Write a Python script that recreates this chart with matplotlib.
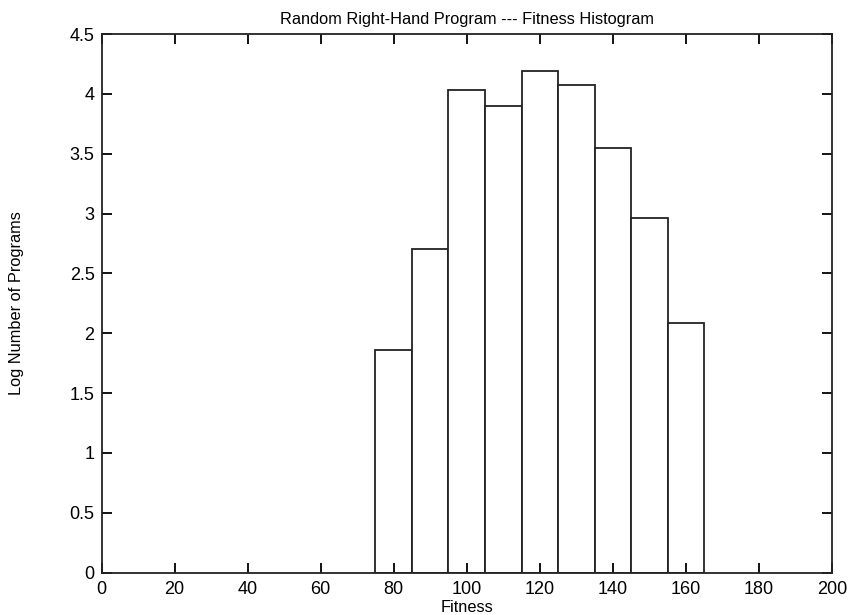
import matplotlib
matplotlib.use('Agg')
import matplotlib.pyplot as plt

# fitness bin centres and log counts
fitness = [80, 90, 100, 110, 120, 130, 140, 150, 160]
log_counts = [1.86, 2.70, 4.03, 3.90, 4.19, 4.07, 3.55, 2.96, 2.09]
bin_width = 10

plt.rcParams['font.family'] = ['Liberation Sans', 'DejaVu Sans']

fig = plt.figure(figsize=(8.48, 6.15), dpi=100)
ax = fig.add_axes([0.1197, 0.0688, 0.8614, 0.8759])

ax.bar(fitness, log_counts, width=bin_width, facecolor='white',
       edgecolor='#222222', linewidth=1.3)

ax.set_xlim(0, 200)
ax.set_ylim(0, 4.5)
ax.set_xticks(range(0, 201, 20))
ax.set_yticks([0, 0.5, 1, 1.5, 2, 2.5, 3, 3.5, 4, 4.5])
ax.set_yticklabels(['0', '0.5', '1', '1.5', '2', '2.5', '3', '3.5', '4', '4.5'])
ax.tick_params(direction='in', length=7, width=1.3, top=True, right=True,
               labelsize=13, pad=5)
ax.tick_params(axis='x', pad=6)
for s in ax.spines.values():
    s.set_linewidth(1.3)
    s.set_color('#222222')

ax.set_title('Random Right-Hand Program --- Fitness Histogram', fontsize=11.8, pad=7)
ax.set_xlabel('Fitness', fontsize=11.8, va='top')
ax.xaxis.set_label_coords(0.5, -0.051)
ax.set_ylabel('Log Number of Programs', fontsize=11.8, labelpad=33)

plt.savefig('out.png', dpi=100)
